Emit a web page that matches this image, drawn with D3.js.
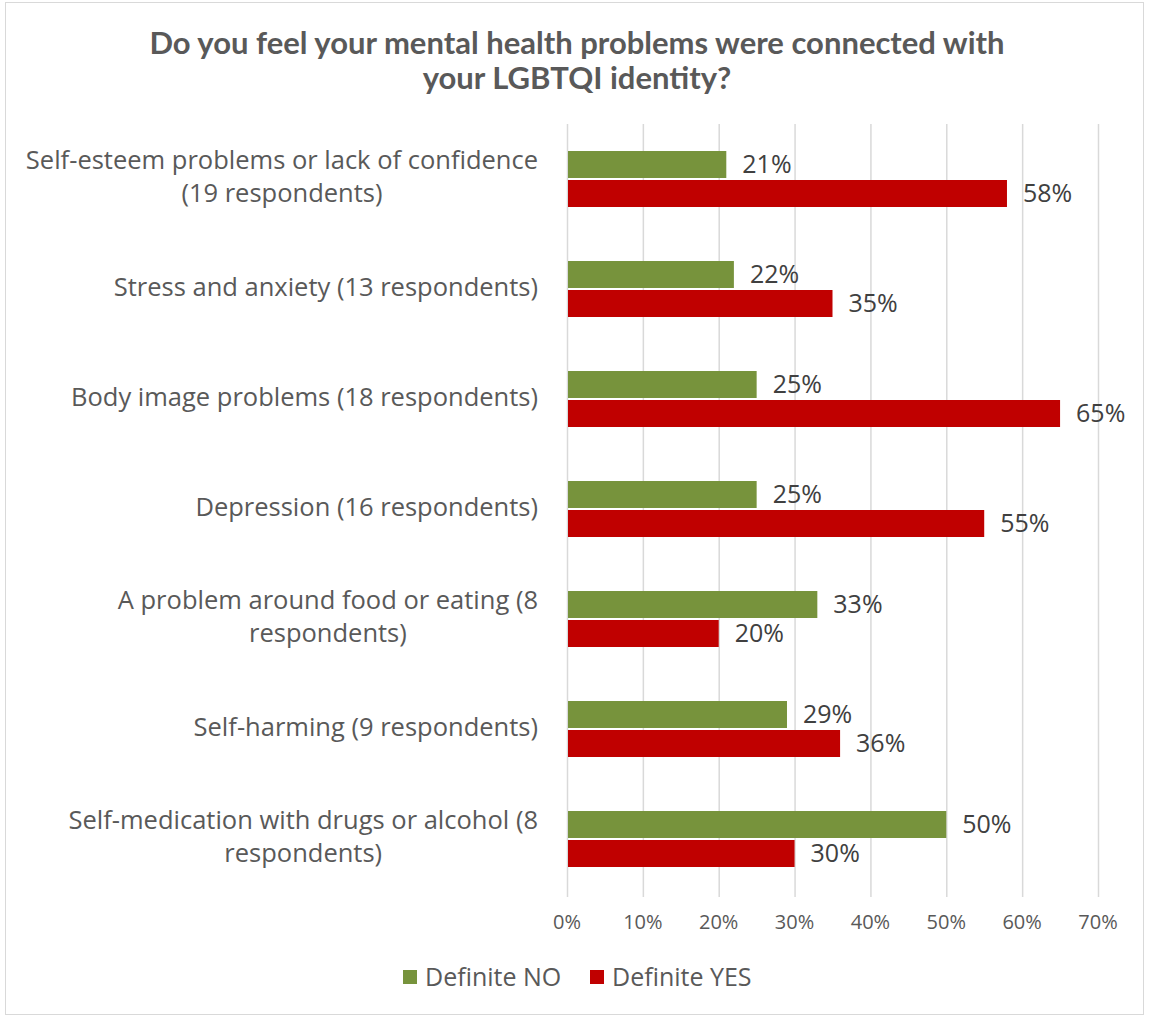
<!DOCTYPE html>
<html>
<head>
<meta charset="utf-8">
<script src="https://cdn.jsdelivr.net/npm/d3@7/dist/d3.min.js"></script>
<style>
  html, body { margin: 0; padding: 0; background: #fff; }
  svg { display: block; }
</style>
</head>
<body>
<script>
// Survey categories (each label may wrap to two lines)
const categories = [
  ["Self-esteem problems or lack of confidence", "(19 respondents)"],
  ["Stress and anxiety (13 respondents)"],
  ["Body image problems (18 respondents)"],
  ["Depression (16 respondents)"],
  ["A problem around food or eating (8", "respondents)"],
  ["Self-harming (9 respondents)"],
  ["Self-medication with drugs or alcohol (8", "respondents)"]
];
const definiteNo  = [21, 22, 25, 25, 33, 29, 50];
const definiteYes = [58, 35, 65, 55, 20, 36, 30];
const seriesNames = ["Definite NO", "Definite YES"];
const tickValues = [0, 10, 20, 30, 40, 50, 60, 70];

const W = 1150, H = 1018;
const colors = ["#77933C", "#C00000"];
const labelFont = "'Open Sans', 'Liberation Sans', sans-serif";

const svg = d3.select("body").append("svg").attr("width", W).attr("height", H);

// outer chart border
svg.append("rect").attr("x", 5.5).attr("y", 2.5).attr("width", 1138).attr("height", 1012)
  .attr("fill", "#fff").attr("stroke", "#d9d9d9").attr("stroke-width", 1);

// title
const title = svg.append("text").attr("text-anchor", "middle")
  .attr("font-family", "Lato, 'Open Sans', sans-serif").attr("font-weight", "bold")
  .attr("font-size", 31).attr("fill", "#595959");
title.append("tspan").attr("x", 577).attr("y", 54).text("Do you feel your mental health problems were connected with");
title.append("tspan").attr("x", 577).attr("y", 89).text("your LGBTQI identity?");

const x = d3.scaleLinear().domain([0, 70]).range([567, 1098]);
const y = d3.scaleBand().domain(d3.range(categories.length)).range([124, 894]);
const barH = 27, gap = 2;

// vertical gridlines
svg.append("g").selectAll("line").data(tickValues).join("line")
  .attr("x1", d => x(d) + 0.5).attr("x2", d => x(d) + 0.5)
  .attr("y1", 124).attr("y2", 897)
  .attr("stroke", "#d9d9d9").attr("stroke-width", 1.5);

// tick labels
svg.append("g").selectAll("text").data(tickValues).join("text")
  .attr("x", d => x(d)).attr("y", 922).attr("dy", "0.35em").attr("text-anchor", "middle")
  .attr("font-family", labelFont).attr("font-size", 20).attr("fill", "#595959")
  .text(d => d + "%");

const series = [definiteNo, definiteYes];
series.forEach((vals, si) => {
  const g = svg.append("g");
  g.selectAll("rect").data(vals).join("rect")
    .attr("x", x(0) + 1)
    .attr("y", (d, i) => y(i) + y.bandwidth() / 2 - barH - gap / 2 + si * (barH + gap))
    .attr("width", d => x(d) - x(0) - 1)
    .attr("height", barH)
    .attr("fill", colors[si]);
  g.selectAll("text").data(vals).join("text")
    .attr("x", d => x(d) + 16)
    .attr("y", (d, i) => y(i) + y.bandwidth() / 2 - barH / 2 - gap / 2 + si * (barH + gap))
    .attr("dy", "0.35em")
    .attr("font-family", labelFont).attr("font-size", 25).attr("fill", "#404040")
    .text(d => d + "%");
});

// category labels: right-aligned block, lines centered within the block
const labelRight = 538, lineH = 33;
categories.forEach((lines, i) => {
  const cy = y(i) + y.bandwidth() / 2 - 2;
  const g = svg.append("g");
  const texts = lines.map((ln, k) => g.append("text")
    .attr("font-family", labelFont).attr("font-size", 25.5).attr("fill", "#595959")
    .attr("text-anchor", "middle")
    .attr("y", cy + (k - (lines.length - 1) / 2) * lineH)
    .attr("dy", "0.35em")
    .text(ln));
  const blockW = d3.max(texts, t => t.node().getComputedTextLength());
  texts.forEach(t => t.attr("x", labelRight - blockW / 2));
});

// legend
const legend = svg.append("g");
const legendX = [403, 590];
seriesNames.forEach((name, i) => {
  legend.append("rect").attr("x", legendX[i]).attr("y", 970).attr("width", 14).attr("height", 14)
    .attr("fill", colors[i]);
  legend.append("text").attr("x", legendX[i] + 22).attr("y", 977).attr("dy", "0.35em")
    .attr("font-family", labelFont).attr("font-size", 25).attr("fill", "#595959").text(name);
});
</script>
</body>
</html>
